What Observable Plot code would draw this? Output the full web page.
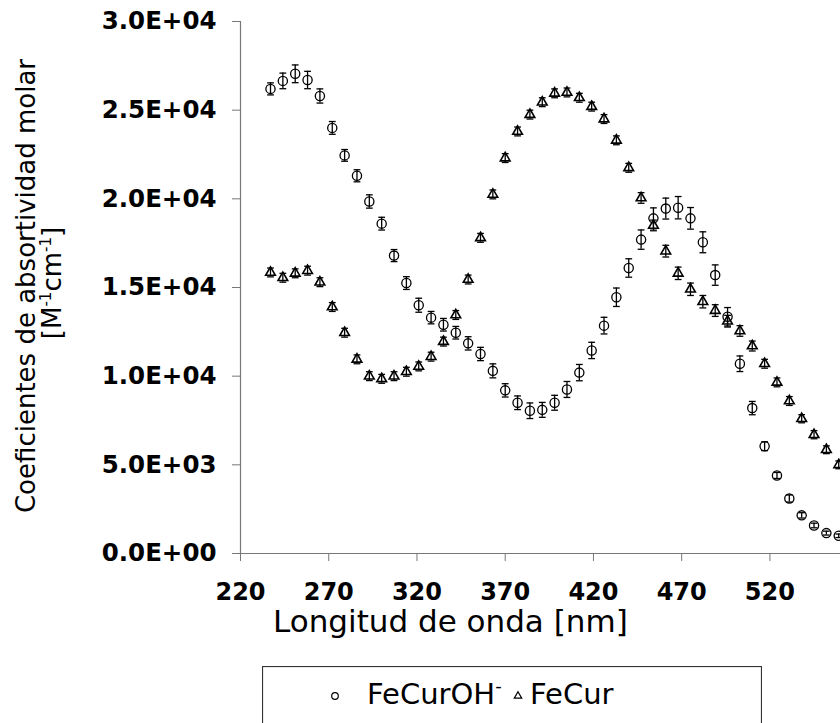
<!DOCTYPE html>
<html>
<head>
<meta charset="utf-8">
<script src="https://cdn.jsdelivr.net/npm/d3@7"></script>
<script src="https://cdn.jsdelivr.net/npm/@observablehq/plot@0.6"></script>
<style>
  html, body { margin: 0; padding: 0; background: #fff; }
  #wrap { width: 840px; height: 723px; overflow: hidden; font-family: "DejaVu Sans", sans-serif; }
  #legend { display: block; margin: 21px 0 0 262px; }
</style>
</head>
<body>
<div id="wrap"></div>
<script>
// ---- Data ----
const wavelength = [237,244,251,258,265,272,279,286,293,300,307,314,321,328,335,342,349,356,363,370,377,384,391,398,405,412,419,426,433,440,447,454,461,468,475,482,489,496,503,510,517,524,531,538,545,552,559];

const feCurOH = [26200,26650,27050,26700,25800,24000,22450,21300,19850,18600,16800,15250,14000,13300,12900,12450,11850,11250,10300,9200,8500,8050,8100,8500,9250,10200,11450,12850,14450,16100,17700,18900,19450,19500,18900,17550,15700,13350,10700,8200,6050,4400,3100,2150,1580,1150,1000];
const feCurOHErr = [340,440,500,490,400,360,330,340,375,360,340,360,395,350,355,355,375,375,395,375,385,440,420,420,450,460,460,470,520,520,545,590,590,630,610,590,575,520,440,375,250,170,200,150,130,110,100];

const feCur = [15850,15550,15800,15950,15300,13900,12450,10950,10000,9850,10000,10250,10550,11100,11950,13450,15450,17800,20250,22300,23800,24750,25450,25950,26000,25700,25200,24500,23300,21750,20050,18500,17050,15800,14900,14200,13700,13100,12550,11700,10700,9650,8600,7600,6700,5850,5000];
const feCurErr = [250,250,250,250,250,250,250,250,250,250,250,250,250,250,250,250,250,250,250,250,250,250,250,250,250,250,250,250,250,250,300,300,330,350,350,350,330,330,300,280,250,250,250,230,230,220,220];

const seriesNames = ["FeCurOH", "FeCur"];
const xTicks = [220,270,320,370,420,470,520];
const yTicks = [0,5000,10000,15000,20000,25000,30000];
const yTickLabels = ["0.0E+00","5.0E+03","1.0E+04","1.5E+04","2.0E+04","2.5E+04","3.0E+04"];
const xTitle = "Longitud de onda [nm]";
const yTitle = "Coeficientes de absortividad molar";

// ---- Build table ----
const rowsOH = wavelength.map((w, i) => ({w, v: feCurOH[i], e: feCurOHErr[i]}));
const rowsC = wavelength.map((w, i) => ({w, v: feCur[i], e: feCurErr[i]}));

// horizontal cap symbol for error bars
const cap = {
  draw(ctx, size) {
    const r = Math.sqrt(size / Math.PI);
    ctx.moveTo(-r, 0);
    ctx.lineTo(r, 0);
  }
};

function errorMarks(rows, w) {
  return [
    Plot.ruleX(rows, {x: "w", y1: d => d.v - d.e, y2: d => d.v + d.e, stroke: "black", strokeWidth: w}),
    Plot.dot(rows, {x: "w", y: d => d.v - d.e, symbol: cap, r: 3.4, stroke: "black", strokeWidth: w}),
    Plot.dot(rows, {x: "w", y: d => d.v + d.e, symbol: cap, r: 3.4, stroke: "black", strokeWidth: w})
  ];
}

const chart = Plot.plot({
  width: 840,
  height: 645,
  marginTop: 21,
  marginBottom: 92,
  marginLeft: 240,
  marginRight: 0,
  style: {fontFamily: "DejaVu Sans", background: "white", color: "black"},
  x: {domain: [220, 560]},
  y: {domain: [0, 30000]},
  marks: [
    Plot.ruleY([0], {stroke: "#777", strokeWidth: 1.2}),
    Plot.ruleX([220], {stroke: "#777", strokeWidth: 1.2}),
    Plot.axisY({ticks: yTicks, tickFormat: d => yTickLabels[yTicks.indexOf(d)], tickSize: 8, tickPadding: 16,
      fontSize: 24.5, fontWeight: "bold", stroke: "#777", label: null}),
    Plot.axisX({ticks: xTicks, tickFormat: d => String(d), tickSize: 8, tickPadding: 21,
      fontSize: 24, fontWeight: "bold", stroke: "#777", label: null}),
    ...errorMarks(rowsOH, 1.3),
    Plot.dot(rowsOH, {x: "w", y: "v", r: 4.6, stroke: "black", fill: "none", strokeWidth: 1.3}),
    ...errorMarks(rowsC, 1.3),
    Plot.dot(rowsC, {x: "w", y: "v", symbol: "triangle", r: 3.6, stroke: "black", fill: "none", strokeWidth: 1.6})
  ]
});

const svg = d3.select(chart);
// axis titles
svg.append("text")
  .attr("x", 273).attr("y", 632)
  .attr("text-anchor", "start")
  .attr("font-size", 31).attr("fill", "black")
  .attr("font-family", "DejaVu Sans")
  .text(xTitle);

const yt = svg.append("g").attr("font-family", "DejaVu Sans").attr("fill", "black").attr("font-size", 26).attr("text-anchor", "middle");
yt.append("text").attr("transform", "translate(35,286) rotate(-90)").text(yTitle);
const l2 = yt.append("text").attr("transform", "translate(61,283) rotate(-90)");
l2.append("tspan").text("[M");
l2.append("tspan").attr("font-size", 15).attr("dy", -10).text("-1");
l2.append("tspan").attr("dy", 10).text("cm");
l2.append("tspan").attr("font-size", 15).attr("dy", -10).text("-1");
l2.append("tspan").attr("dy", 10).text("]");

document.getElementById("wrap").appendChild(chart);

// legend below the chart
const lg = d3.select("#wrap").append("svg").attr("id", "legend")
  .attr("width", 500).attr("height", 57)
  .attr("font-family", "DejaVu Sans");
lg.append("rect").attr("x", 0.5).attr("y", 0.5).attr("width", 499).attr("height", 80)
  .attr("fill", "white").attr("stroke", "#333").attr("stroke-width", 1.2);
lg.append("circle").attr("cx", 73).attr("cy", 30).attr("r", 3.3).attr("fill", "none").attr("stroke", "black").attr("stroke-width", 1.2);
const t1 = lg.append("text").attr("x", 105).attr("y", 38).attr("font-size", 29).attr("fill", "black");
t1.append("tspan").text(seriesNames[0]);
t1.append("tspan").attr("font-size", 18).attr("dy", -12).text("-");
lg.append("path").attr("d", d3.symbol(d3.symbolTriangle, 24)()).attr("transform", "translate(256,30)")
  .attr("fill", "none").attr("stroke", "black").attr("stroke-width", 1.2);
lg.append("text").attr("x", 268).attr("y", 38).attr("font-size", 29).attr("fill", "black").text(seriesNames[1]);
</script>
</body>
</html>
